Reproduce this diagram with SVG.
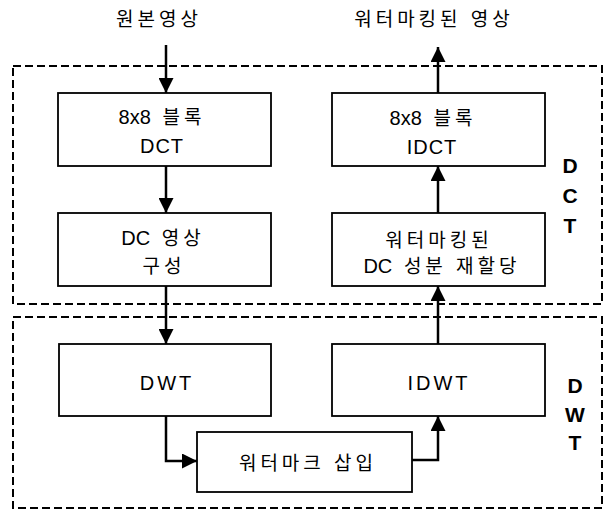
<svg xmlns="http://www.w3.org/2000/svg" width="610" height="510" viewBox="0 0 610 510">
<defs>
<marker id="ah" viewBox="0 0 15 15" refX="15" refY="7.5" markerWidth="15" markerHeight="15" markerUnits="userSpaceOnUse" orient="auto">
<path d="M0,0 L15,7.5 L0,15 z" fill="#000"/>
</marker>
<style>
.region{fill:none;stroke:#000;stroke-width:2;stroke-dasharray:8 4}
.box{fill:#fff;stroke:#000;stroke-width:1.8}
.t{font-family:"Liberation Sans","Noto Sans CJK KR",sans-serif;font-size:20px;fill:#000;text-anchor:middle}
.k{font-size:19px;letter-spacing:4px}
.w{letter-spacing:3px}
.d{letter-spacing:1px}
.g{font-family:"Liberation Sans",sans-serif;font-size:21px;font-weight:bold;fill:#000;text-anchor:middle}
.c{fill:none;stroke:#000;stroke-width:2.5;marker-end:url(#ah)}
</style>
</defs>
<rect width="610" height="510" fill="#fff"/>
<g id="regions">
<rect class="region" x="13" y="66" width="589" height="238"/>
<rect class="region" x="13" y="317" width="589" height="191"/>
<text class="g" x="570" y="173">D</text>
<text class="g" x="570" y="203">C</text>
<text class="g" x="570" y="233">T</text>
<text class="g" x="575" y="393">D</text>
<text class="g" x="575" y="422">W</text>
<text class="g" x="575" y="450">T</text>
</g>
<g id="titles">
<text class="t k" x="159" y="26">원본영상</text>
<text class="t k" x="434" y="26">워터마킹된 영상</text>
</g>
<g id="block-dct">
<rect class="box" x="58" y="93" width="213" height="73"/>
<text class="t" x="162" y="124">8x8 <tspan class="k" dx="6">블록</tspan></text>
<text class="t d" x="162" y="153">DCT</text>
</g>
<g id="dc-image">
<rect class="box" x="58" y="213" width="213" height="73"/>
<text class="t" x="163" y="245">DC <tspan class="k" dx="6">영상</tspan></text>
<text class="t k" x="164" y="273">구성</text>
</g>
<g id="dwt">
<rect class="box" x="59" y="344" width="212" height="72"/>
<text class="t w" x="167" y="390">DWT</text>
</g>
<g id="watermark-insert">
<rect class="box" x="197" y="432" width="215" height="60"/>
<text class="t k" x="308" y="470">워터마크 삽입</text>
</g>
<g id="idwt">
<rect class="box" x="332" y="344" width="213" height="72"/>
<text class="t w" x="439" y="390">IDWT</text>
</g>
<g id="dc-realloc">
<rect class="box" x="332" y="213" width="213" height="73"/>
<text class="t k" x="439" y="247">워터마킹된</text>
<text class="t" x="442" y="273">DC <tspan class="k" dx="6">성분 재할당</tspan></text>
</g>
<g id="block-idct">
<rect class="box" x="332" y="93" width="213" height="73"/>
<text class="t" x="433" y="125">8x8 <tspan class="k" dx="6">블록</tspan></text>
<text class="t d" x="432" y="154">IDCT</text>
</g>
<g id="connectors">
<path class="c" d="M166,45 V93"/>
<path class="c" d="M166,166 V213"/>
<path class="c" d="M166,286 V344"/>
<path class="c" d="M166,416 V461 H197"/>
<path class="c" d="M412,460 H438 V416"/>
<path class="c" d="M438,344 V286"/>
<path class="c" d="M438,213 V166"/>
<path class="c" d="M438,93 V47"/>
</g>
</svg>
